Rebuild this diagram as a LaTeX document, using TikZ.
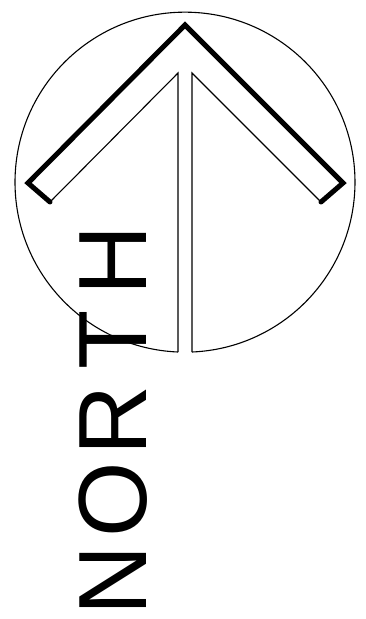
\documentclass[tikz,border=0pt]{standalone}
\usepackage{fontspec}
\newfontfamily\lblfont{Liberation Sans}
\begin{document}
\begin{tikzpicture}[x=1pt,y=-1pt,
  thinline/.style={line width=1.1pt},
  thickline/.style={line width=5pt,line cap=round,line join=miter},
  lbl/.style={font=\lblfont\fontsize{97}{97}\selectfont,inner sep=0pt,rotate=90}]
\useasboundingbox (0,0) rectangle (365,619);
% key points
\coordinate (c) at (185,182);
\coordinate (apex) at (185,25);
\coordinate (lo) at (28,183);
\coordinate (ro) at (343,183);
\coordinate (li) at (50,202);
\coordinate (ri) at (321,202);
\coordinate (lt) at (178,73);
\coordinate (rt) at (192,73);
\coordinate (lb) at (178,352);
\coordinate (rb) at (192,352);
% circle with gap at the bottom
\draw[thinline] (lb) arc[start angle=92.36, end angle=447.64, radius=170];
% outer chevron
\draw[thickline] (li) -- (lo) -- (apex) -- (ro) -- (ri);
% inner lines
\draw[thinline] (li) -- (lt) -- (lb);
\draw[thinline] (ri) -- (rt) -- (rb);
% label
\node[lbl] (north) at (113,420) {\makebox[80pt]{N}\makebox[80pt]{O}\makebox[80pt]{R}\makebox[80pt]{T}\makebox[80pt]{H}};
\end{tikzpicture}
\end{document}
